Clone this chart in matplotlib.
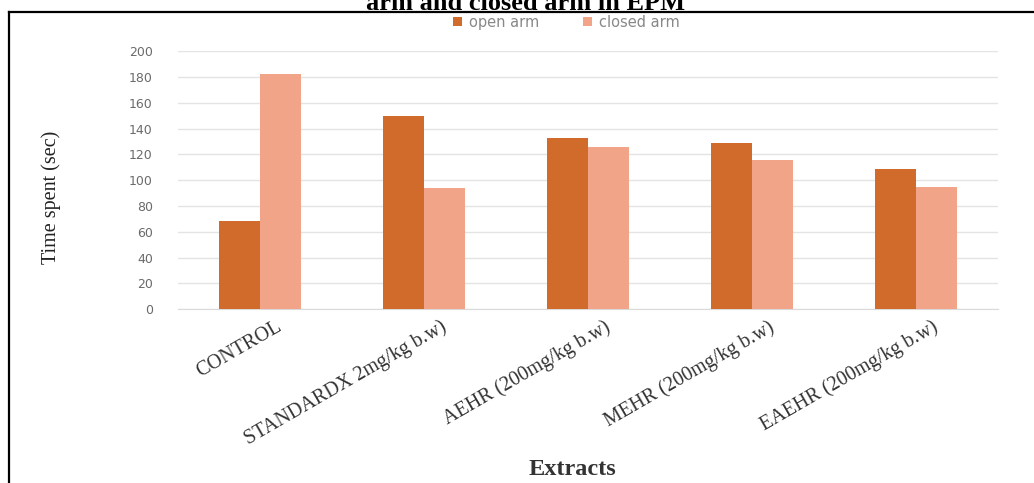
import matplotlib
matplotlib.use("Agg")
import matplotlib.pyplot as plt
import matplotlib.transforms as mtransforms
from matplotlib.lines import Line2D
import numpy as np

# Time spent in open vs closed arm of the elevated plus maze
groups = ["CONTROL", "STANDARDX 2mg/kg b.w)", "AEHR (200mg/kg b.w)",
          "MEHR (200mg/kg b.w)", "EAEHR (200mg/kg b.w)"]
open_arm = [68, 150, 133, 129, 109]
closed_arm = [182, 94, 126, 116, 95]
yticks = list(range(0, 201, 20))

open_color = "#D06B2C"
closed_color = "#F1A487"

fig = plt.figure(figsize=(10.34, 4.83), dpi=100)
ax = fig.add_axes([0.172, 0.360, 0.793, 0.534])

x = np.arange(len(groups))
w = 0.25
ax.bar(x - w / 2, open_arm, w, color=open_color, label="open arm", zorder=3)
ax.bar(x + w / 2, closed_arm, w, color=closed_color, label="closed arm", zorder=3)

ax.set_xlim(-0.5, len(groups) - 0.5)
ax.set_ylim(0, 200)
ax.set_yticks(yticks)
ax.yaxis.grid(True, color="#E4E4E4", linewidth=1.0, zorder=0)
ax.tick_params(axis="y", length=0, pad=18, labelsize=9, labelcolor="#6a6a6a")
ax.tick_params(axis="x", length=0, pad=6)
for s in ["top", "right", "left"]:
    ax.spines[s].set_visible(False)
ax.spines["bottom"].set_color("#DADADA")

ax.set_xticks(x)
ax.set_xticklabels(groups, rotation=30, ha="right", rotation_mode="anchor",
                   family="Liberation Serif", fontsize=14.5, color="#333333")
# nudge the slanted labels so their ends sit just right of the group centre
shift = mtransforms.ScaledTranslation(16 / 100, 0, fig.dpi_scale_trans)
for lbl in ax.get_xticklabels():
    lbl.set_transform(lbl.get_transform() + shift)

ax.set_ylabel("Time spent (sec)", family="Liberation Serif", fontsize=14.5,
              color="#222222")
ax.yaxis.set_label_coords(-0.143, 0.434)
fig.text(0.554, 0.027, "Extracts", family="Liberation Serif", fontsize=17.5,
         fontweight="bold", color="#333333", ha="center", va="center")

fig.legend(loc="center", bbox_to_anchor=(0.548, 0.954), ncol=2, frameon=False,
           fontsize=10.5, handlelength=0.6, handleheight=0.6, handletextpad=0.5,
           columnspacing=3.0, labelcolor="#888888")

# caption from the page, cut off at the top edge
fig.text(0.508, 1 - 10 / 483, "arm and closed arm in EPM", family="Liberation Serif",
         fontsize=19, fontweight="bold", ha="center", va="baseline", color="black")

# page frame
fig.add_artist(Line2D([9 / 1034, 1], [1 - 12 / 483] * 2, color="black", linewidth=1.6,
                      transform=fig.transFigure))
fig.add_artist(Line2D([9 / 1034] * 2, [0, 1 - 12 / 483], color="black", linewidth=1.6,
                      transform=fig.transFigure))

fig.savefig("out.png", dpi=100)
